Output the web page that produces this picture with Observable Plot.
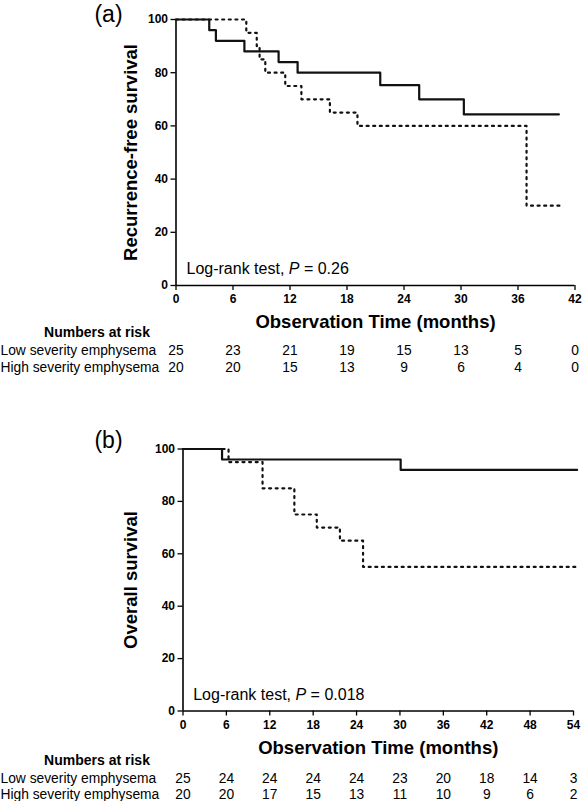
<!DOCTYPE html>
<html>
<head>
<meta charset="utf-8">
<script src="https://cdn.jsdelivr.net/npm/d3@7"></script>
<script src="https://cdn.jsdelivr.net/npm/@observablehq/plot@0.6"></script>
<style>
  html, body { margin: 0; padding: 0; background: #fff; }
  #chart { width: 584px; height: 801px; overflow: hidden; }
  #chart svg { display: block; overflow: visible; }
</style>
</head>
<body>
<div id="chart"></div>
<script>
// ---------- data ----------
const groupNames = ["Low severity emphysema", "High severity emphysema"];
const survivalTicks = [0, 20, 40, 60, 80, 100];

// (a) recurrence-free survival
const monthTicksA = [0, 6, 12, 18, 24, 30, 36, 42];
const rfsLowTime  = [0, 3.5, 4.2, 7.2, 10.8, 12.8, 21.5, 25.6, 30.3, 40.3];
const rfsLowSurv  = [100, 96, 92, 88, 84, 80, 75.3, 70, 64.3, 64.3];
const rfsHighTime = [0, 7.4, 8.5, 8.8, 9.4, 11.5, 13.2, 16.2, 19.1, 36.9, 40.5];
const rfsHighSurv = [100, 95, 90, 85, 80, 75, 70, 65, 60, 30, 30];
const riskLowA    = [25, 23, 21, 19, 15, 13, 5, 0];
const riskHighA   = [20, 20, 15, 13, 9, 6, 4, 0];
const pValueA = "0.26";

// (b) overall survival
const monthTicksB = [0, 6, 12, 18, 24, 30, 36, 42, 48, 54];
const osLowTime   = [0, 5.4, 30.1, 54.5];
const osLowSurv   = [100, 96, 92, 92];
const osHighTime  = [0, 6.3, 11, 15.4, 18.5, 21.7, 24.9, 54.5];
const osHighSurv  = [100, 95, 85, 75, 70, 65, 55, 55];
const riskLowB    = [25, 24, 24, 24, 24, 23, 20, 18, 14, 3];
const riskHighB   = [20, 20, 17, 15, 13, 11, 10, 9, 6, 2];
const pValueB = "0.018";

// ---------- drawing ----------
const FONT = "'Liberation Sans', Arial, Helvetica, sans-serif";
const toRows = (t, s) => t.map((x, i) => ({t: x, s: s[i]}));

function panel(cfg) {
  const xMax = cfg.ticks[cfg.ticks.length - 1];
  const riskRows = (vals) => cfg.ticks.map((t, i) => ({t, n: vals[i]}));
  const mid = {lineAnchor: "middle"};
  const svg = Plot.plot({
    width: 584,
    height: cfg.height,
    marginTop: cfg.mt, marginBottom: cfg.mb, marginLeft: cfg.ml, marginRight: cfg.mr,
    x: {domain: [0, xMax]},
    y: {domain: [0, 100]},
    style: {fontFamily: FONT, fontSize: "12px", color: "#000", background: "#fff"},
    marks: [
      Plot.axisY({ticks: survivalTicks, tickSize: 5, tickPadding: 3, fontWeight: "bold", fontSize: 12, label: null, strokeWidth: 1.3}),
      Plot.axisX({ticks: cfg.ticks, tickSize: 5, tickPadding: 4, fontWeight: "bold", fontSize: 12, label: null, strokeWidth: 1.3}),
      Plot.ruleX([0], {y1: 0, y2: 100, strokeWidth: 1.6, stroke: "#000"}),
      Plot.ruleY([0], {x1: 0, x2: xMax, strokeWidth: 1.6, stroke: "#000"}),
      Plot.line(toRows(cfg.highT, cfg.highS), {x: "t", y: "s", curve: "step-after", stroke: "#111", strokeWidth: 2.2, strokeDasharray: "2,4.6"}),
      Plot.line(toRows(cfg.lowT, cfg.lowS), {x: "t", y: "s", curve: "step-after", stroke: "#111", strokeWidth: 2.2}),
      // panel letter
      Plot.text([cfg.letter], {...mid, frameAnchor: "top-left", dx: cfg.letterDx, dy: cfg.letterDy, fontSize: 23, textAnchor: "middle"}),
      // y title
      Plot.text([cfg.yLabel], {...mid, frameAnchor: "left", rotate: -90, dx: cfg.yLabelDx, fontSize: 18.5, fontWeight: "bold", textAnchor: "middle"}),
      // x title
      Plot.text(["Observation Time (months)"], {...mid, frameAnchor: "bottom", dy: cfg.off.title, fontSize: 18.5, fontWeight: "bold", textAnchor: "middle"}),
      // log-rank annotation
      Plot.text(["Log-rank test, P = " + cfg.p], {...mid, frameAnchor: "bottom-left", dx: cfg.pDx, dy: cfg.pDy, fontSize: 16, textAnchor: "start"}),
      // numbers at risk
      Plot.text(["Numbers at risk"], {...mid, frameAnchor: "bottom-left", dx: cfg.narDx, dy: cfg.off.nar, fontSize: 14, fontWeight: "bold", textAnchor: "middle"}),
      Plot.text([groupNames[0]], {...mid, frameAnchor: "bottom-left", dx: -cfg.ml, dy: cfg.off.low, fontSize: 13.8, textAnchor: "start"}),
      Plot.text([groupNames[1]], {...mid, frameAnchor: "bottom-left", dx: -cfg.ml, dy: cfg.off.high, fontSize: 13.8, textAnchor: "start"}),
      Plot.text(riskRows(cfg.riskLow), {...mid, x: "t", text: "n", frameAnchor: "bottom", dy: cfg.off.low, fontSize: 13.8, textAnchor: "middle"}),
      Plot.text(riskRows(cfg.riskHigh), {...mid, x: "t", text: "n", frameAnchor: "bottom", dy: cfg.off.high, fontSize: 13.8, textAnchor: "middle"})
    ]
  });
  // italic P in the annotation
  svg.querySelectorAll("text").forEach(t => {
    if (t.textContent.startsWith("Log-rank test")) {
      t.textContent = "";
      const parts = [["Log-rank test, ", "normal"], ["P", "italic"], [" = " + cfg.p, "normal"]];
      for (const [s, st] of parts) {
        const ts = document.createElementNS("http://www.w3.org/2000/svg", "tspan");
        ts.setAttribute("font-style", st);
        ts.textContent = s;
        t.appendChild(ts);
      }
    }
  });
  return svg;
}

const chart = document.getElementById("chart");
chart.appendChild(panel({
  height: 400, mt: 19, mb: 115, ml: 175.5, mr: 9.5,
  ticks: monthTicksA,
  lowT: rfsLowTime, lowS: rfsLowSurv, highT: rfsHighTime, highS: rfsHighSurv,
  riskLow: riskLowA, riskHigh: riskHighA, p: pValueA,
  letter: "(a)", letterDx: -67.5, letterDy: -5,
  yLabel: "Recurrence-free survival", yLabelDx: -44.5,
  pDx: 10.5, pDy: -17,
  narDx: -79,
  off: {title: 37, nar: 46.7, low: 65, high: 82.3}
}));
chart.appendChild(panel({
  height: 401, mt: 48.5, mb: 90.5, ml: 182.5, mr: 11,
  ticks: monthTicksB,
  lowT: osLowTime, lowS: osLowSurv, highT: osHighTime, highS: osHighSurv,
  riskLow: riskLowB, riskHigh: riskHighB, p: pValueB,
  letter: "(b)", letterDx: -74.5, letterDy: -8.5,
  yLabel: "Overall survival", yLabelDx: -51.5,
  pDx: 10.2, pDy: -16.5,
  narDx: -86,
  off: {title: 37.5, nar: 50, low: 67.5, high: 84}
}));
</script>
</body>
</html>
